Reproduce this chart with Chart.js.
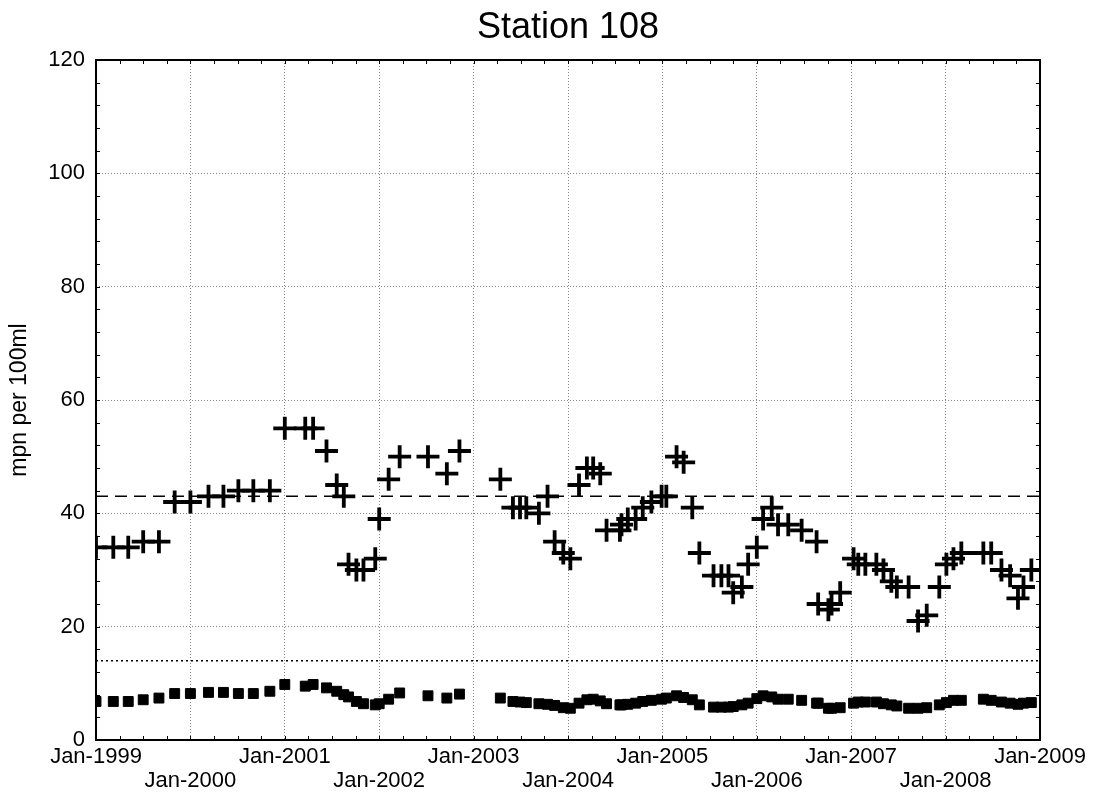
<!DOCTYPE html>
<html>
<head>
<meta charset="utf-8">
<title>Station 108</title>
<script src="https://cdn.jsdelivr.net/npm/chart.js@4.4.0/dist/chart.umd.min.js"></script>
<style>
  html, body { margin: 0; padding: 0; background: #fff; }
  #wrap { width: 1093px; height: 805px; }
</style>
</head>
<body>
<div id="wrap"><canvas id="chart01"></canvas></div>
<script>
// sample dates as months since Jan-1999
const sampleMonths = [
  0, 2.2, 4.1, 6, 8, 10, 12, 14.3, 16.2, 18.1, 20, 22.1,
  24, 26.6, 27.6, 29.3, 30.6, 31.5, 32.1, 33.1, 34, 35.5,
  36, 37.2, 38.6, 42.2, 44.6, 46.2,
  51.4, 53, 53.9, 54.7, 56.3, 57.4, 58.3, 59.4,
  60.3, 61.4, 62.4, 63.2, 64.1, 64.9, 66.6, 66.8, 67.6, 68.6, 69.5, 70.6, 71.9,
  72.5, 73.8, 74.7, 75.8, 76.7, 78.5, 79.5, 80.4, 81, 82.1, 82.9,
  84, 84.8, 85.9, 86.7, 88, 89.7, 91.6, 91.8, 93.1, 93.5, 94.6,
  96.3, 96.9, 97.8, 99.2, 100.1, 101.1, 101.8, 103.3, 104.5, 105.6, 107.2,
  108.1, 109, 110, 112.8, 113.8, 115.1, 116.2, 117.2, 117.9, 118.9
];
// "+" markers
const crossValues = [
  34, 34, 34, 35, 35, 42, 42, 43, 43, 44, 44, 44,
  55, 55, 55, 51, 45, 43, 31, 30, 30, 32,
  39, 46, 50, 50, 47, 51,
  46, 41, 41, 41, 40, 43, 35, 33,
  32, 45, 48, 48, 47, 37, 37, 38, 39, 39, 41, 42, 43,
  43, 50, 49, 41, 33, 29, 29, 29, 26, 27, 31,
  34, 39, 41, 38, 38, 37, 35, 24, 23, 24, 26,
  32, 31, 31, 31, 30, 28, 27, 27, 21, 22, 27,
  31, 32, 33, 33, 33, 30, 29, 25, 27, 30
];
// filled square markers
const squareValues = [
  6.8, 6.8, 6.8, 7.1, 7.4, 8.2, 8.2, 8.4, 8.4, 8.2, 8.2, 8.6,
  9.8, 9.5, 9.8, 9.2, 8.6, 8.0, 7.6, 6.8, 6.4, 6.2,
  6.4, 7.2, 8.3, 7.8, 7.4, 8.1,
  7.4, 6.8, 6.7, 6.6, 6.4, 6.3, 6.1, 5.7,
  5.6, 6.5, 7.1, 7.2, 6.9, 6.4, 6.2, 6.2, 6.3, 6.5, 6.8, 7.0, 7.2,
  7.4, 7.8, 7.5, 7.1, 6.2, 5.8, 5.8, 5.8, 5.9, 6.2, 6.5,
  7.3, 7.8, 7.6, 7.2, 7.2, 7.0, 6.5, 6.5, 5.6, 5.6, 5.7,
  6.5, 6.7, 6.7, 6.7, 6.4, 6.2, 6.0, 5.6, 5.6, 5.7, 6.2,
  6.6, 7.0, 7.0, 7.2, 7.0, 6.7, 6.5, 6.3, 6.5, 6.6
];
const yearLabels = ["Jan-1999", "Jan-2000", "Jan-2001", "Jan-2002", "Jan-2003", "Jan-2004",
  "Jan-2005", "Jan-2006", "Jan-2007", "Jan-2008", "Jan-2009"];
const dashedLevel = 43;
const dottedLevel = 14;

const FONT = "'Liberation Sans', Arial, sans-serif";

// box around the plot with small inward ticks on all four sides
const frameTicks = {
  id: "frameTicks",
  afterDatasetsDraw(chart) {
    const { ctx, chartArea: a, scales } = chart;
    const x = scales.x, y = scales.y;
    ctx.save();
    ctx.strokeStyle = "#000";
    ctx.lineWidth = 1;
    ctx.beginPath();
    for (let m = 0; m <= 120; m += 3) {
      const px = Math.round(x.getPixelForValue(m)) + 0.5;
      ctx.moveTo(px, a.bottom); ctx.lineTo(px, a.bottom - 4);
      ctx.moveTo(px, a.top); ctx.lineTo(px, a.top + 4);
    }
    for (let v = 0; v <= 120; v += 4) {
      const py = Math.round(y.getPixelForValue(v)) + 0.5;
      ctx.moveTo(a.left, py); ctx.lineTo(a.left + 4, py);
      ctx.moveTo(a.right, py); ctx.lineTo(a.right - 4, py);
    }
    ctx.stroke();
    ctx.lineWidth = 2;
    ctx.strokeRect(a.left, a.top, a.right - a.left, a.bottom - a.top);
    ctx.restore();
  }
};

const ctx01 = document.getElementById("chart01").getContext("2d");

const config = {
  type: "scatter",
  data: {
    datasets: [
      {
        label: "dotted",
        data: [{ x: 0, y: dottedLevel }, { x: 120, y: dottedLevel }],
        showLine: true,
        borderColor: "#000",
        borderWidth: 1.5,
        borderDash: [2, 3],
        pointRadius: 0,
        clip: 0,
      },
      {
        label: "dashed",
        data: [{ x: 0, y: dashedLevel }, { x: 120, y: dashedLevel }],
        showLine: true,
        borderColor: "#000",
        borderWidth: 1.5,
        borderDash: [12, 7],
        pointRadius: 0,
        clip: 0,
      },
      {
        label: "squares",
        data: sampleMonths.map((m, i) => ({ x: m, y: squareValues[i] })),
        pointStyle: "rect",
        pointRadius: 7,
        backgroundColor: "#000",
        borderColor: "#000",
        borderWidth: 1,
        clip: 0,
      },
      {
        label: "crosses",
        data: sampleMonths.map((m, i) => ({ x: m, y: crossValues[i] })),
        pointStyle: "cross",
        pointRadius: 11.5,
        borderColor: "#000",
        borderWidth: 3.8,
        clip: 0,
      },
    ],
  },
  options: {
    responsive: true,
    maintainAspectRatio: false,
    animation: false,
    layout: { padding: { left: 0, right: 53, top: 0, bottom: 0 } },
    plugins: {
      legend: { display: false },
      tooltip: { enabled: false },
      title: {
        display: true,
        text: "Station 108",
        fullSize: false,
        color: "#000",
        font: { family: FONT, size: 36, weight: "normal", lineHeight: 1.2 },
        padding: { top: 6.4, bottom: 10.4 },
      },
    },
    scales: {
      x: {
        type: "linear",
        min: 0,
        max: 120,
        afterFit(scale) { scale.height = 65; },
        grid: { color: "#888", lineWidth: 1, drawTicks: false },
        border: { display: false, dash: [1, 2] },
        ticks: {
          stepSize: 12,
          autoSkip: false,
          maxRotation: 0,
          padding: 5,
          color: "#000",
          font: { family: FONT, size: 22, lineHeight: 1.1 },
          callback(value) {
            if (value % 12 !== 0) return "";
            const i = value / 12;
            return i % 2 === 0 ? yearLabels[i] : ["", yearLabels[i]];
          },
        },
      },
      y: {
        min: 0,
        max: 120,
        afterFit(scale) { scale.width = 96; },
        grid: { color: "#888", lineWidth: 1, drawTicks: false },
        border: { display: false, dash: [1, 2] },
        ticks: {
          stepSize: 20,
          padding: 11,
          color: "#000",
          font: { family: FONT, size: 22 },
        },
        title: {
          display: true,
          text: "mpn per 100ml",
          color: "#000",
          font: { family: FONT, size: 23, lineHeight: 1.2 },
          padding: { top: 6, bottom: 0 },
        },
      },
    },
  },
  plugins: [frameTicks],
};

const myChart01 = new Chart(ctx01, config);
</script>
</body>
</html>
